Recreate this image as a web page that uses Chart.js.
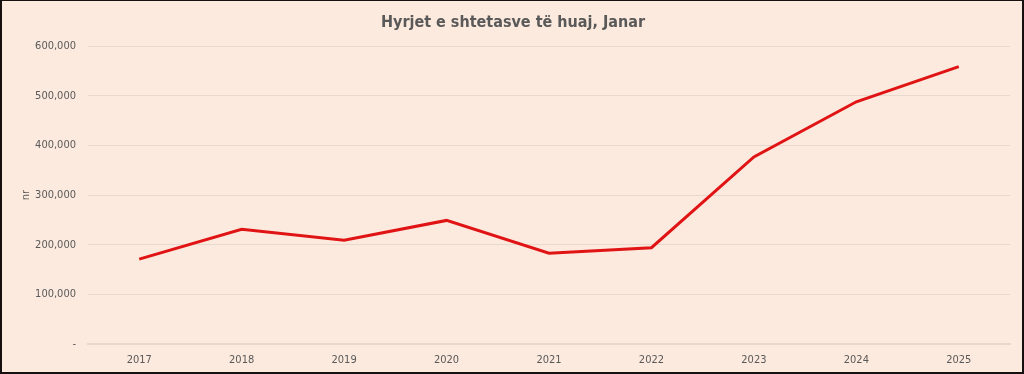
<!DOCTYPE html>
<html>
<head>
<meta charset="utf-8">
<script src="https://cdn.jsdelivr.net/npm/chart.js@4"></script>
<style>
  html, body { margin: 0; padding: 0; background: #111; }
  #frame { position: absolute; left: 0; top: 0; width: 1024px; height: 374px; background: #161010; }
  #inner { position: absolute; left: 2px; top: 1px; width: 1020px; height: 371px; background: #FCEADE; }
  canvas { display: block; }
</style>
</head>
<body>
<div id="frame"><div id="inner"><canvas id="chart" width="1020" height="371"></canvas></div></div>
<script>
const years = ['2017','2018','2019','2020','2021','2022','2023','2024','2025'];
const arrivals = [171000, 231000, 209000, 249000, 183000, 194000, 377000, 488000, 559000];
const yTicks = [0, 100000, 200000, 300000, 400000, 500000, 600000];

const fontFam = "'Liberation Sans Narrow', 'DejaVu Sans Condensed', sans-serif";

new Chart(document.getElementById('chart'), {
  type: 'line',
  data: {
    labels: years,
    datasets: [{
      label: 'Hyrjet',
      data: arrivals,
      borderColor: '#E01414',
      borderWidth: 3,
      pointRadius: 0,
      tension: 0,
      fill: false
    }]
  },
  options: {
    responsive: false,
    animation: false,
    layout: { padding: { left: 14, right: 12, top: 0, bottom: 0 } },
    plugins: {
      legend: { display: false },
      tooltip: { enabled: false },
      title: {
        display: true,
        text: 'Hyrjet e shtetasve të huaj, Janar',
        color: '#595959',
        font: { family: fontFam, size: 16, weight: 'bold' },
        padding: { top: 12, bottom: 14 }
      }
    },
    scales: {
      x: {
        offset: true,
        afterFit: axis => { axis.height = 28; },
        grid: { display: false },
        border: { display: true, color: '#E6D8CE', width: 2 },
        ticks: { color: '#595959', font: { family: fontFam, size: 11 }, padding: 2 }
      },
      y: {
        min: 0,
        max: 600000,
        afterBuildTicks: axis => { axis.ticks = yTicks.map(v => ({ value: v })); },
        afterFit: axis => { axis.width = 72; },
        grid: { color: '#E8D9CF', lineWidth: 1, drawTicks: false },
        border: { display: false },
        title: { display: true, text: 'nr', color: '#595959', font: { family: fontFam, size: 11 }, padding: { bottom: 18 } },
        ticks: {
          color: '#595959',
          font: { family: fontFam, size: 11 },
          padding: 12,
          callback: v => v === 0 ? '-' : v.toLocaleString('en-US')
        }
      }
    }
  }
});
</script>
</body>
</html>
